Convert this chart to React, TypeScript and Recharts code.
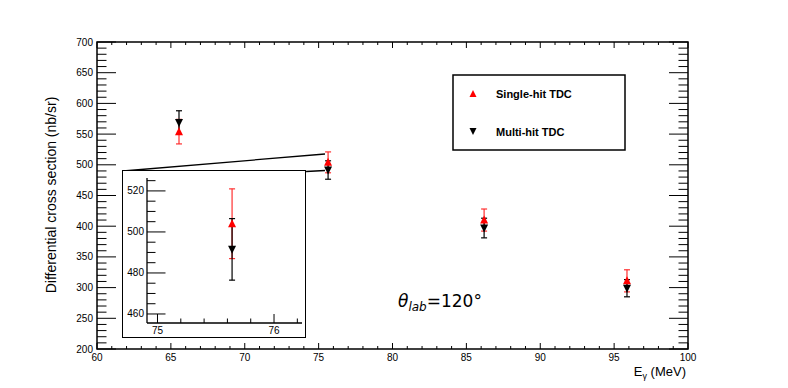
import React from "react";
import {
  ScatterChart,
  Scatter,
  ErrorBar,
  XAxis,
  YAxis,
  ReferenceArea,
  ReferenceLine,
} from "recharts";

// photon energies (MeV) of the four bins
const energies = [65.55, 75.64, 86.2, 95.87];
// Single-hit TDC cross sections and errors (nb/sr)
const singleHit = [554, 504, 410, 311];
const singleErr = [20, 17, 18, 18];
// Multi-hit TDC cross sections and errors (nb/sr)
const multiHit = [569, 491.5, 397, 299];
const multiErr = [19, 15, 16, 14];

// main axes labels
const xLabels = [60, 65, 70, 75, 80, 85, 90, 95, 100];
const yLabels = [200, 250, 300, 350, 400, 450, 500, 550, 600, 650, 700];
// inset axes labels
const insetXLabels = [75, 76];
const insetYLabels = [460, 480, 500, 520];

// the zoom lines joining the inset to the main frame (data units)
const zoomLineUpper = [
  { x: 61.76, y: 489.9 },
  { x: 75.43, y: 517.6 },
];
const zoomLineLower = [
  { x: 74.15, y: 489.1 },
  { x: 75.43, y: 490.7 },
];

const steps = (from: number, to: number, step: number) => {
  const out: number[] = [];
  for (let v = from; v <= to + 1e-9; v += step) out.push(Math.round(v * 100) / 100);
  return out;
};

const FONT = "'Liberation Sans', Arial, sans-serif";
const RED = "#ff0000";
const RED_BAR = "#ff3030";

// main plot frame in pixels
const M = { left: 97, top: 42, right: 688, bottom: 349 };
const PW = M.right - M.left;
const PH = M.bottom - M.top;

// inset placement
const IN = { left: 122, top: 170, width: 184, height: 168 };
const INM = { left: 25, top: 8, right: 4, bottom: 15 };

const single = energies.map((x, i) => ({ x, y: singleHit[i], err: singleErr[i] }));
const multi = energies.map((x, i) => ({ x, y: multiHit[i], err: multiErr[i] }));

const TriUp = (p: any) => (
  <polygon
    points={`${p.cx},${p.cy - 4.5} ${p.cx - 4},${p.cy + 3.5} ${p.cx + 4},${p.cy + 3.5}`}
    fill={RED}
  />
);
const TriDown = (p: any) => (
  <polygon
    points={`${p.cx},${p.cy + 4.5} ${p.cx - 4},${p.cy - 3.5} ${p.cx + 4},${p.cy - 3.5}`}
    fill="#000"
  />
);

const MainXTick = (props: any) => {
  const { x, y, payload } = props;
  const major = xLabels.includes(payload.value);
  const len = major ? 6 : 3;
  return (
    <g>
      <line x1={x} x2={x} y1={y} y2={y - len} stroke="#000" />
      <line x1={x} x2={x} y1={y - PH} y2={y - PH + len} stroke="#000" />
      {major && (
        <text x={x} y={y + 12} textAnchor="middle" fontSize={10} fontFamily={FONT} fill="#000">
          {payload.value}
        </text>
      )}
    </g>
  );
};

const MainYTick = (props: any) => {
  const { x, y, payload } = props;
  const major = yLabels.includes(payload.value);
  const len = major ? 19 : 9.5;
  return (
    <g>
      <line x1={x} x2={x + len} y1={y} y2={y} stroke="#000" />
      <line x1={x + PW} x2={x + PW - len} y1={y} y2={y} stroke="#000" />
      {major && (
        <text x={x - 4} y={y + 3.5} textAnchor="end" fontSize={10} fontFamily={FONT} fill="#000">
          {payload.value}
        </text>
      )}
    </g>
  );
};

const InsetXTick = (props: any) => {
  const { x, y, payload } = props;
  const major = insetXLabels.includes(payload.value);
  const len = major ? 9 : 4.5;
  return (
    <g>
      <line x1={x} x2={x} y1={y} y2={y - len} stroke="#000" />
      {major && (
        <text x={x} y={y + 11} textAnchor="middle" fontSize={10} fontFamily={FONT} fill="#000">
          {payload.value}
        </text>
      )}
    </g>
  );
};

const InsetYTick = (props: any) => {
  const { x, y, payload } = props;
  const major = insetYLabels.includes(payload.value);
  const len = major ? 18.5 : 8.5;
  return (
    <g>
      <line x1={x} x2={x + len} y1={y} y2={y} stroke="#000" />
      {major && (
        <text x={x - 3} y={y + 3.5} textAnchor="end" fontSize={10} fontFamily={FONT} fill="#000">
          {payload.value}
        </text>
      )}
    </g>
  );
};

export default function App() {
  return (
    <div style={{ position: "fixed", left: 0, top: 0, width: 788, height: 388, background: "#fff" }}>
      <div style={{ position: "absolute", left: 0, top: 0 }}>
        <ScatterChart
          width={788}
          height={388}
          margin={{ top: M.top, right: 788 - M.right, bottom: 388 - M.bottom - 1, left: M.left - 1 }}
        >
          <XAxis
            dataKey="x"
            type="number"
            domain={[60, 100]}
            ticks={steps(60, 100, 1)}
            interval={0}
            height={1}
            axisLine={false}
            tickLine={false}
            tickSize={0}
            tickMargin={0}
            tick={MainXTick}
            allowDataOverflow
          />
          <YAxis
            dataKey="y"
            type="number"
            domain={[200, 700]}
            ticks={steps(200, 700, 10)}
            interval={0}
            width={1}
            axisLine={false}
            tickLine={false}
            tickSize={0}
            tickMargin={0}
            tick={MainYTick}
            allowDataOverflow
          />
          <ReferenceArea x1={60} x2={100} y1={200} y2={700} fill="none" stroke="#000" strokeWidth={1.5} />
          <ReferenceLine segment={zoomLineUpper} stroke="#000" strokeWidth={1.3} ifOverflow="visible" />
          <ReferenceLine segment={zoomLineLower} stroke="#000" strokeWidth={1.3} ifOverflow="visible" />
          <Scatter data={single} shape={TriUp} isAnimationActive={false}>
            <ErrorBar dataKey="err" direction="y" width={3} stroke={RED_BAR} strokeWidth={1.2} />
          </Scatter>
          <Scatter data={multi} shape={TriDown} isAnimationActive={false}>
            <ErrorBar dataKey="err" direction="y" width={3} stroke="#000" strokeWidth={1.2} />
          </Scatter>
        </ScatterChart>
      </div>

      <div
        style={{
          position: "absolute",
          left: IN.left,
          top: IN.top,
          width: IN.width,
          height: IN.height,
          background: "#fff",
        }}
      >
        <ScatterChart
          width={IN.width}
          height={IN.height}
          margin={{ top: INM.top, right: INM.right, bottom: INM.bottom - 1, left: INM.left - 1 }}
        >
          <XAxis
            dataKey="x"
            type="number"
            domain={[74.91, 76.24]}
            ticks={steps(75, 76.2, 0.2)}
            interval={0}
            height={1}
            axisLine={{ stroke: "#000", strokeWidth: 1.3 }}
            tickLine={false}
            tickSize={0}
            tickMargin={0}
            tick={InsetXTick}
            allowDataOverflow
          />
          <YAxis
            dataKey="y"
            type="number"
            domain={[455.6, 526.3]}
            ticks={steps(460, 525, 5)}
            interval={0}
            width={1}
            axisLine={{ stroke: "#000", strokeWidth: 1.3 }}
            tickLine={false}
            tickSize={0}
            tickMargin={0}
            tick={InsetYTick}
            allowDataOverflow
          />
          <Scatter data={single.slice(1, 2)} shape={TriUp} isAnimationActive={false}>
            <ErrorBar dataKey="err" direction="y" width={3} stroke={RED_BAR} strokeWidth={1.2} />
          </Scatter>
          <Scatter data={multi.slice(1, 2)} shape={TriDown} isAnimationActive={false}>
            <ErrorBar dataKey="err" direction="y" width={3} stroke="#000" strokeWidth={1.2} />
          </Scatter>
        </ScatterChart>
        <div
          style={{
            position: "absolute",
            left: 0,
            top: 0,
            width: IN.width,
            height: IN.height,
            border: "1.5px solid #000",
            boxSizing: "border-box",
            pointerEvents: "none",
          }}
        />
      </div>

      <svg
        width={788}
        height={388}
        style={{ position: "absolute", left: 0, top: 0, pointerEvents: "none" }}
      >
        <text
          transform="translate(56,195) rotate(-90)"
          textAnchor="middle"
          fontSize={14}
          fontFamily={FONT}
          fill="#000"
        >
          Differential cross section (nb/sr)
        </text>
        <text x={686} y={376} textAnchor="end" fontSize={13} fontFamily={FONT} fill="#000">
          E<tspan fontSize={9} dy={3}>γ</tspan>
          <tspan dy={-3}> (MeV)</tspan>
        </text>
        <text x={398} y={307} fontSize={17} fontFamily="'DejaVu Sans', sans-serif" fill="#000">
          <tspan fontStyle="italic">θ</tspan>
          <tspan fontStyle="italic" fontSize={12} dy={4}>lab</tspan>
          <tspan dy={-4}>=120°</tspan>
        </text>

        <rect x={453} y={75} width={172} height={75} fill="#fff" stroke="#000" strokeWidth={1.5} />
        <polygon points="473,90 469.5,97 476.5,97" fill={RED} />
        <text x={496} y={98} fontSize={11} fontWeight="bold" fontFamily={FONT} fill="#000">
          Single-hit TDC
        </text>
        <polygon points="473,135 469.5,128 476.5,128" fill="#000" />
        <text x={496} y={135.5} fontSize={11} fontWeight="bold" fontFamily={FONT} fill="#000">
          Multi-hit TDC
        </text>
      </svg>
    </div>
  );
}
